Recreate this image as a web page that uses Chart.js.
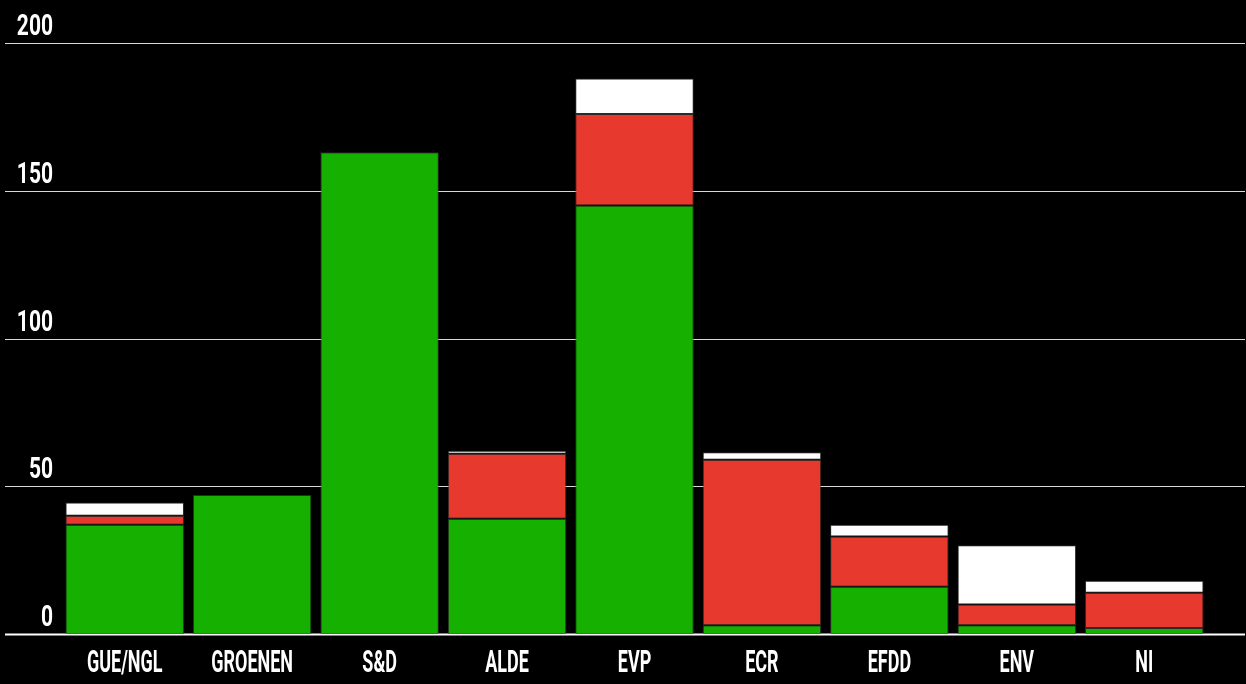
<!DOCTYPE html>
<html>
<head>
<meta charset="utf-8">
<script src="https://cdn.jsdelivr.net/npm/chart.js@4/dist/chart.umd.min.js"></script>
<style>
  html, body { margin: 0; padding: 0; background: #000; }
  #wrap { width: 1246px; height: 684px; }
</style>
</head>
<body>
<div id="wrap"><canvas id="chart" width="1246" height="684"></canvas></div>
<script>
const fracties = ['GUE/NGL', 'GROENEN', 'S&D', 'ALDE', 'EVP', 'ECR', 'EFDD', 'ENV', 'NI'];
const groen = [37, 47, 163, 39, 145, 3, 16, 3, 2];
const rood = [3, 0, 0, 22, 31, 56, 17, 7, 12];
const wit = [4.5, 0, 0, 1, 12, 2.5, 4, 20, 4];
const yTicks = [0, 50, 100, 150, 200];

const FONT = 'Roboto, "Liberation Sans", sans-serif';

// eigen rasterlijnen over de hele breedte + smalle labels
const decor = {
  id: 'decor',
  beforeDatasetsDraw(chart) {
    const ctx = chart.ctx;
    const y = chart.scales.y;
    ctx.save();
    yTicks.forEach(v => {
      const py = Math.round(y.getPixelForValue(v)) + 0.5;
      ctx.strokeStyle = v === 0 ? '#ffffff' : '#d8d8d8';
      ctx.lineWidth = v === 0 ? 2 : 1;
      ctx.beginPath();
      ctx.moveTo(5, py);
      ctx.lineTo(1245, py);
      ctx.stroke();
    });
    ctx.restore();
  },
  afterDraw(chart) {
    const ctx = chart.ctx;
    const x = chart.scales.x;
    const y = chart.scales.y;
    ctx.save();
    ctx.fillStyle = '#ffffff';

    ctx.font = 'bold 30px ' + FONT;
    ctx.textAlign = 'right';
    ctx.textBaseline = 'alphabetic';
    yTicks.forEach(v => {
      ctx.save();
      ctx.translate(53, y.getPixelForValue(v) - 8);
      ctx.scale(0.7, 1);
      ctx.fillText(String(v), 0, 0);
      ctx.restore();
    });

    ctx.font = 'bold 31px ' + FONT;
    ctx.textAlign = 'center';
    fracties.forEach((f, i) => {
      ctx.save();
      ctx.translate(x.getPixelForValue(i), chart.chartArea.bottom + 38);
      ctx.scale(0.58, 1);
      ctx.fillText(f, 0, 0);
      ctx.restore();
    });
    ctx.restore();
  }
};

const barStyle = { borderColor: 'rgba(70,70,70,0.6)', borderWidth: 1, borderSkipped: false };

new Chart(document.getElementById('chart'), {
  type: 'bar',
  data: {
    labels: fracties,
    datasets: [
      Object.assign({ label: 'voor', data: groen, backgroundColor: '#16b000' }, barStyle),
      Object.assign({ label: 'tegen', data: rood, backgroundColor: '#e8392f' }, barStyle),
      Object.assign({ label: 'onthouding', data: wit, backgroundColor: '#ffffff' }, barStyle)
    ]
  },
  options: {
    responsive: false,
    animation: false,
    layout: { padding: { left: 61, right: 38, top: 43, bottom: 50 } },
    datasets: { bar: { barPercentage: 0.93, categoryPercentage: 1 } },
    plugins: { legend: { display: false }, tooltip: { enabled: false } },
    scales: {
      x: { stacked: true, display: false },
      y: { stacked: true, display: false, min: 0, max: 200 }
    }
  },
  plugins: [decor]
});
</script>
</body>
</html>
